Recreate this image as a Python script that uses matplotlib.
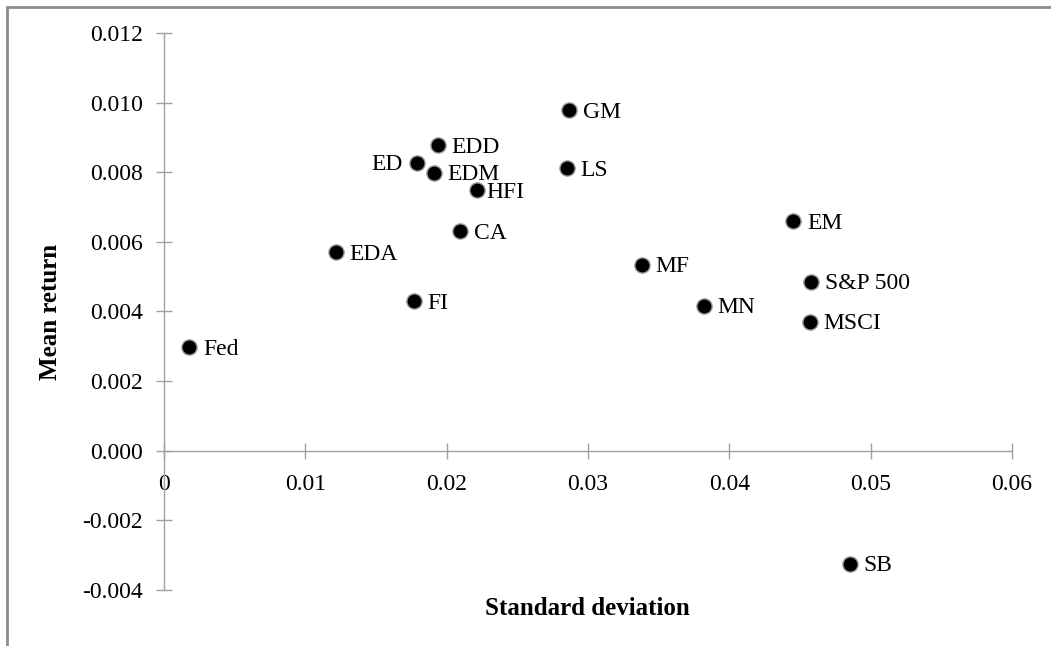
import matplotlib
matplotlib.use("Agg")
import matplotlib.pyplot as plt
from matplotlib.patches import Rectangle

plt.rcParams['font.family'] = ['Liberation Serif', 'DejaVu Serif']

names = ['Fed', 'EDA', 'FI', 'ED', 'EDM', 'EDD', 'HFI', 'CA', 'GM', 'LS',
         'MF', 'MN', 'EM', 'S&P 500', 'MSCI', 'SB']
std_dev = [0.00177, 0.01216, 0.01768, 0.0179, 0.0191, 0.01938, 0.02214, 0.02093,
           0.02864, 0.0285, 0.0338, 0.0382, 0.0445, 0.04576, 0.0457, 0.0485]
mean_ret = [0.00298, 0.00571, 0.00430, 0.00826, 0.00798, 0.00878, 0.00749, 0.00631,
            0.00978, 0.00812, 0.00534, 0.00416, 0.0066, 0.00485, 0.0037, -0.00324]
xticks = [0, 0.01, 0.02, 0.03, 0.04, 0.05, 0.06]
xtick_labels = ['0', '0.01', '0.02', '0.03', '0.04', '0.05', '0.06']
yticks = [-0.004, -0.002, 0.0, 0.002, 0.004, 0.006, 0.008, 0.010, 0.012]
ytick_labels = ['-0.004', '-0.002', '0.000', '0.002', '0.004', '0.006', '0.008', '0.010', '0.012']

fig = plt.figure(figsize=(10.51, 6.46), dpi=100)
ax = fig.add_axes([0.156, 0.0867, 0.807, 0.8623])

ax.scatter(std_dev, mean_ret, s=120, color='black', edgecolors='#9a9a9a',
           linewidths=1.0, zorder=3)

for n, x, y in zip(names, std_dev, mean_ret):
    if n == 'ED':
        ax.annotate(n, (x, y), xytext=(-10, -1), textcoords='offset points',
                    ha='right', va='center', fontsize=17)
    elif n == 'HFI':
        ax.annotate(n, (x, y), xytext=(7, -2), textcoords='offset points',
                    ha='left', va='center', fontsize=17)
    else:
        ax.annotate(n, (x, y), xytext=(10, -1.5), textcoords='offset points',
                    ha='left', va='center', fontsize=17)

ax.set_xlim(0, 0.06)
ax.set_ylim(-0.004, 0.012)
ax.set_xticks(xticks)
ax.set_xticklabels(xtick_labels)
ax.set_yticks(yticks)
ax.set_yticklabels(ytick_labels)

for s in ['top', 'right']:
    ax.spines[s].set_visible(False)
ax.spines['bottom'].set_position(('data', 0))
ax.spines['left'].set_position(('data', 0))
for s in ['bottom', 'left']:
    ax.spines[s].set_color('#a0a0a0')
    ax.spines[s].set_linewidth(1.0)

ax.tick_params(axis='both', direction='inout', length=12, width=1.0,
               color='#a0a0a0', labelsize=17, labelcolor='black')
ax.tick_params(axis='x', pad=10.5)
ax.tick_params(axis='y', pad=9)

fig.text(0.048, 0.517, 'Mean return', rotation=90, ha='center', va='center',
         fontsize=18, fontweight='bold')
fig.text(0.559, 0.058, 'Standard deviation', ha='center', va='center',
         fontsize=18, fontweight='bold')

fig.patches.append(Rectangle((0.007, -0.1), 1.1, 1.089, transform=fig.transFigure,
                             fill=False, edgecolor='#8c8c8c', linewidth=2))

fig.savefig('out.png', dpi=100)
